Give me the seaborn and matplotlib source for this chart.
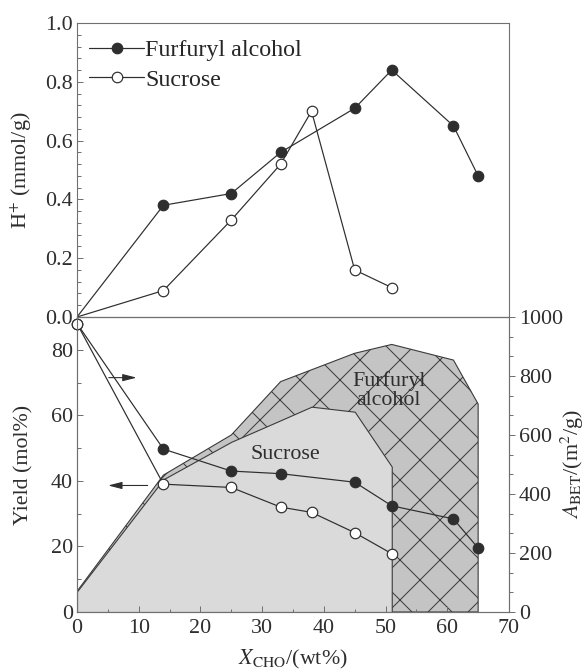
import matplotlib
matplotlib.use("Agg")
import matplotlib.pyplot as plt
from matplotlib.ticker import MultipleLocator, FormatStrFormatter
import seaborn as sns

# carbohydrate loading X_CHO (wt%)
x_fa = [0, 14, 25, 33, 45, 51, 61, 65]
x_su = [0, 14, 25, 33, 38, 45, 51]

# acid site density H+ (mmol/g)
h_fa = [0, 0.38, 0.42, 0.56, 0.71, 0.84, 0.65, 0.48]
h_su = [0, 0.09, 0.33, 0.52, 0.70, 0.16, 0.10]

# yield (mol%)
yield_fa = [88, 49.7, 43.0, 42.2, 39.6, 32.4, 28.4, 19.5]
yield_su = [88, 39.0, 38.0, 32.0, 30.4, 24.2, 17.8]

# BET surface area (m2/g)
abet_fa = [70, 464, 600, 781, 877, 907, 854, 705]
abet_su = [70, 450, 577, 650, 696, 679, 493]

series_labels = ["Furfuryl alcohol", "Sucrose"]

# dpi 120 gives hatch cells about the size of the original ones
DPI = 120
W, H = 585, 670


def pt(px):
    # pixel size -> points at this dpi
    return px * 72.0 / DPI


sns.set_style("ticks")
plt.rcParams["font.family"] = ["Liberation Serif", "DejaVu Serif"]
plt.rcParams["mathtext.fontset"] = "stix"
plt.rcParams["hatch.linewidth"] = pt(1.0)

ink = "#2e2e2e"
frame = "#707070"
fs = pt(22)

fig = plt.figure(figsize=(W / DPI, H / DPI), dpi=DPI)
ax_top = fig.add_axes([77 / W, 1 - 317 / H, 432 / W, 294 / H])
ax_bot = fig.add_axes([77 / W, 1 - 612 / H, 432 / W, 295 / H])
ax_area = ax_bot.twinx()

line_kw = dict(color=ink, linewidth=pt(1.2), marker="o", markersize=pt(10.5),
               markeredgewidth=pt(1.2), markeredgecolor=ink)

# ---- top panel: acid density
sns.lineplot(x=x_fa, y=h_fa, ax=ax_top, markerfacecolor=ink, label=series_labels[0],
             markevery=list(range(1, len(x_fa))), **line_kw)
sns.lineplot(x=x_su, y=h_su, ax=ax_top, markerfacecolor="white", label=series_labels[1],
             markevery=list(range(1, len(x_su))), **line_kw)
ax_top.set_xlim(0, 70)
ax_top.set_ylim(0, 1.0)
ax_top.yaxis.set_major_locator(MultipleLocator(0.2))
ax_top.yaxis.set_minor_locator(MultipleLocator(0.04))
ax_top.yaxis.set_major_formatter(FormatStrFormatter("%.1f"))
ax_top.tick_params(axis="y", which="both", direction="in", colors=frame, labelcolor=ink,
                   labelsize=fs, pad=pt(4))
ax_top.tick_params(axis="y", which="major", length=pt(6), width=pt(1))
ax_top.tick_params(axis="y", which="minor", length=pt(3.5), width=pt(1))
ax_top.tick_params(axis="x", which="both", bottom=False, labelbottom=False)
ax_top.set_ylabel("H$^{+}$ (mmol/g)", color=ink, fontsize=fs)
ax_top.yaxis.set_label_coords(-0.10, 0.5)
ax_top.legend(loc="upper left", frameon=False, fontsize=pt(24), handlelength=2.3,
              handletextpad=0.05, labelspacing=0.32, borderaxespad=0.1,
              bbox_to_anchor=(0.0, 0.985))

# ---- bottom panel: surface area (filled) on the twin axis
ax_area.fill_between(x_fa, abet_fa, 0, facecolor="#c4c4c4", edgecolor="#3a3a3a",
                     hatch="x", linewidth=pt(1.1))
ax_area.fill_between(x_su, abet_su, 0, facecolor="#dadada", edgecolor="#3a3a3a",
                     linewidth=pt(1.1))
ax_area.set_ylim(0, 1000)
ax_area.yaxis.set_major_locator(MultipleLocator(200))
ax_area.yaxis.set_minor_locator(MultipleLocator(200 / 3))
ax_area.tick_params(axis="y", which="both", direction="out", colors=frame, labelcolor=ink,
                    labelsize=fs, pad=pt(4))
ax_area.tick_params(axis="y", which="major", length=pt(6), width=pt(1))
ax_area.tick_params(axis="y", which="minor", length=pt(3.5), width=pt(1))
ax_area.set_ylabel(r"$\mathit{A}_{\mathrm{BET}}$/(m$^{2}$/g)", color=ink, fontsize=fs)
ax_area.yaxis.set_label_coords(1.115, 0.5)

# yield lines drawn on the primary axis, kept above the twin
ax_bot.set_zorder(ax_area.get_zorder() + 1)
ax_bot.patch.set_visible(False)
sns.lineplot(x=x_fa, y=yield_fa, ax=ax_bot, markerfacecolor=ink, clip_on=False, **line_kw)
sns.lineplot(x=x_su, y=yield_su, ax=ax_bot, markerfacecolor="white", clip_on=False, **line_kw)
ax_bot.set_xlim(0, 70)
ax_bot.set_ylim(0, 90)
ax_bot.xaxis.set_major_locator(MultipleLocator(10))
ax_bot.xaxis.set_minor_locator(MultipleLocator(5))
ax_bot.yaxis.set_major_locator(MultipleLocator(20))
ax_bot.yaxis.set_minor_locator(MultipleLocator(10))
ax_bot.tick_params(axis="both", which="both", direction="in", colors=frame, labelcolor=ink,
                   labelsize=fs, top=False, right=False)
ax_bot.tick_params(axis="y", pad=pt(4))
ax_bot.tick_params(axis="x", pad=pt(7))
ax_bot.tick_params(axis="both", which="major", length=pt(6), width=pt(1))
ax_bot.tick_params(axis="both", which="minor", length=pt(3.5), width=pt(1))
ax_bot.set_ylabel("Yield (mol%)", color=ink, fontsize=fs)
ax_bot.yaxis.set_label_coords(-0.10, 0.5)
ax_bot.set_xlabel(r"$\mathit{X}_{\mathrm{CHO}}$/(wt%)", color=ink, fontsize=fs)
ax_bot.xaxis.set_label_coords(0.5, -0.122)
if ax_bot.get_legend() is not None:
    ax_bot.get_legend().remove()

# arrows pointing to the matching axes
arrow_kw = dict(arrowstyle="-|>,head_length=0.7,head_width=0.18", color=ink, lw=pt(1.1))
ax_bot.annotate("", xy=(10.2, 71.5), xytext=(4.6, 71.5), arrowprops=arrow_kw)
ax_bot.annotate("", xy=(4.5, 38.6), xytext=(12.0, 38.6), arrowprops=arrow_kw)

ax_bot.text(33.8, 48.2, series_labels[1], ha="center", va="center", color=ink, fontsize=fs)
ax_bot.text(50.5, 67.5, "Furfuryl\nalcohol", ha="center", va="center", color=ink,
            fontsize=fs, linespacing=1.0)

for ax in (ax_top, ax_bot, ax_area):
    for sp in ax.spines.values():
        sp.set_color(frame)
        sp.set_linewidth(pt(1.1))

fig.savefig("out.png", dpi=DPI)
